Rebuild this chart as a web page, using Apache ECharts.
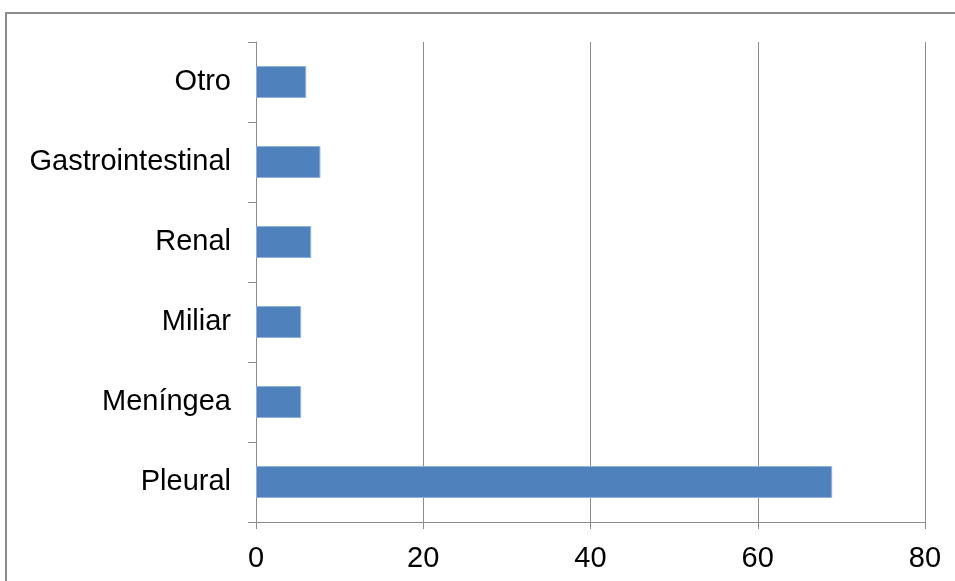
<!DOCTYPE html>
<html>
<head>
<meta charset="utf-8">
<script src="https://cdn.jsdelivr.net/npm/echarts@6/dist/echarts.min.js"></script>
<style>
  html, body { margin: 0; padding: 0; background: #ffffff; }
  #chart { width: 955px; height: 581px; }
</style>
</head>
<body>
<div id="chart"></div>
<script>
// Localización de la tuberculosis extrapulmonar (%)
const categories = ['Pleural', 'Meníngea', 'Miliar', 'Renal', 'Gastrointestinal', 'Otro'];
const values = [68.9, 5.4, 5.4, 6.6, 7.7, 6.0];
const xTicks = { min: 0, max: 80, interval: 20 };

const axisGray = '#8c8c8c';
const fontFamily = 'Liberation Sans, Arial, sans-serif';

const chart = echarts.init(document.getElementById('chart'));
chart.setOption({
  animation: false,
  backgroundColor: '#ffffff',
  graphic: [{
    type: 'rect',
    shape: { x: 6, y: 13, width: 1000, height: 700 },
    style: { fill: 'none', stroke: axisGray, lineWidth: 2 },
    silent: true
  }],
  grid: { left: 256, right: 30, top: 42, bottom: 59, containLabel: false },
  xAxis: {
    type: 'value',
    min: xTicks.min,
    max: xTicks.max,
    interval: xTicks.interval,
    axisLine: { show: true, lineStyle: { color: axisGray, width: 1 } },
    axisTick: { show: true, length: 7, lineStyle: { color: axisGray } },
    splitLine: { show: true, lineStyle: { color: axisGray, width: 1 } },
    axisLabel: { color: '#000', fontSize: 29, fontFamily, margin: 22 }
  },
  yAxis: {
    type: 'category',
    data: categories,
    axisLine: { show: true, lineStyle: { color: axisGray, width: 1 } },
    axisTick: { show: true, length: 8, alignWithLabel: false, lineStyle: { color: axisGray } },
    axisLabel: { color: '#000', fontSize: 29, fontFamily, margin: 25, padding: [5, 0, 0, 0] }
  },
  series: [{
    type: 'bar',
    data: values,
    barCategoryGap: '60%',
    itemStyle: { color: '#4f81bd', borderColor: '#8fb0da', borderWidth: 1 }
  }]
});
</script>
</body>
</html>
